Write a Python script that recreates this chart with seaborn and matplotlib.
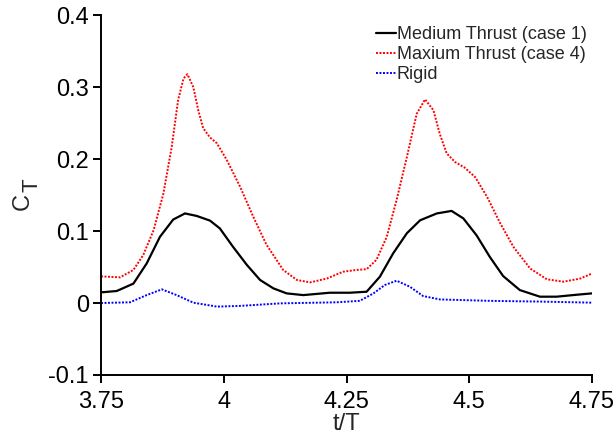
import matplotlib
matplotlib.use("Agg")
import matplotlib.pyplot as plt
import seaborn as sns

# Medium Thrust (case 1)
t_medium = [3.75, 3.782, 3.816, 3.843, 3.87, 3.897, 3.921, 3.945, 3.972, 3.992, 4.019, 4.047,
            4.074, 4.101, 4.128, 4.162, 4.216, 4.257, 4.291, 4.318, 4.345, 4.373, 4.4, 4.434,
            4.464, 4.488, 4.515, 4.542, 4.569, 4.603, 4.644, 4.678, 4.719, 4.75]
ct_medium = [0.0148, 0.0167, 0.027, 0.055, 0.092, 0.116, 0.1245, 0.121, 0.1145, 0.1037, 0.078,
             0.053, 0.032, 0.0204, 0.0134, 0.011, 0.0143, 0.0143, 0.0157, 0.0366, 0.069, 0.097,
             0.115, 0.1245, 0.128, 0.1176, 0.094, 0.064, 0.0375, 0.018, 0.0088, 0.0088, 0.0115,
             0.0134]

# Maxium Thrust (case 4)
t_max = [3.75, 3.789, 3.816, 3.836, 3.857, 3.877, 3.894, 3.907, 3.918, 3.926, 3.938, 3.948,
         3.958, 3.972, 3.986, 4.006, 4.033, 4.06, 4.087, 4.121, 4.149, 4.176, 4.21, 4.243,
         4.271, 4.291, 4.311, 4.332, 4.352, 4.373, 4.393, 4.41, 4.427, 4.44, 4.454, 4.471,
         4.491, 4.512, 4.536, 4.563, 4.59, 4.624, 4.658, 4.692, 4.726, 4.75]
ct_max = [0.037, 0.0357, 0.046, 0.0667, 0.101, 0.152, 0.217, 0.282, 0.312, 0.318, 0.3, 0.268,
          0.243, 0.23, 0.222, 0.199, 0.162, 0.12, 0.081, 0.046, 0.032, 0.0287, 0.034, 0.0435,
          0.046, 0.047, 0.06, 0.092, 0.143, 0.203, 0.263, 0.283, 0.268, 0.235, 0.208, 0.196,
          0.188, 0.175, 0.148, 0.111, 0.078, 0.048, 0.033, 0.0296, 0.034, 0.041]

# Rigid
t_rigid = [3.75, 3.809, 3.843, 3.874, 3.904, 3.938, 3.986, 4.033, 4.115, 4.23, 4.277, 4.305,
           4.328, 4.352, 4.379, 4.406, 4.44, 4.542, 4.644, 4.75]
ct_rigid = [0.0, 0.001, 0.011, 0.019, 0.011, 0.0005, -0.005, -0.004, -0.0005, 0.001, 0.003,
            0.0134, 0.025, 0.031, 0.0227, 0.0097, 0.005, 0.003, 0.002, 0.0005]

x_ticks = [3.75, 4, 4.25, 4.5, 4.75]
x_tick_labels = ["3.75", "4", "4.25", "4.5", "4.75"]
y_ticks = [-0.1, 0, 0.1, 0.2, 0.3, 0.4]
y_tick_labels = ["-0.1", "0", "0.1", "0.2", "0.3", "0.4"]

sns.set_style("ticks")
plt.rcParams["font.family"] = ["Liberation Sans", "DejaVu Sans"]

fig, ax = plt.subplots(figsize=(6.16, 4.34), dpi=100)
fig.subplots_adjust(left=0.164, right=0.961, top=0.965, bottom=0.136)

dots = (0, (1, 0.8))
sns.lineplot(x=t_medium, y=ct_medium, ax=ax, color="black", linewidth=1.6,
             label="Medium Thrust (case 1)")
sns.lineplot(x=t_max, y=ct_max, ax=ax, color="red", linewidth=1.4, linestyle=dots,
             label="Maxium Thrust (case 4)")
sns.lineplot(x=t_rigid, y=ct_rigid, ax=ax, color="blue", linewidth=1.4, linestyle=dots,
             label="Rigid")

ax.set_xlim(3.75, 4.75)
ax.set_ylim(-0.1, 0.4)
ax.set_xticks(x_ticks)
ax.set_xticklabels(x_tick_labels)
ax.set_yticks(y_ticks)
ax.set_yticklabels(y_tick_labels)
ax.tick_params(direction="out", length=5.8, width=1.4, labelsize=17, pad=3, colors="black")
ax.tick_params(axis="x", pad=5.5)
for side in ["left", "bottom"]:
    ax.spines[side].set_linewidth(1.4)
    ax.spines[side].set_color("black")
sns.despine(ax=ax)

ax.set_xlabel("t/T", fontsize=17, labelpad=0)
ax.set_ylabel("")
# C with a lowered, near full-size T as in the original
fig.text(23 / 616, 1 - 202 / 434, "C", rotation=90, fontsize=17, ha="center", va="center")
fig.text(32 / 616, 1 - 185.5 / 434, "T", rotation=90, fontsize=16, ha="center", va="center")

ax.legend(loc="upper left", bbox_to_anchor=(376 / 616, 1 - 26 / 434),
          bbox_transform=fig.transFigure, frameon=False, fontsize=13,
          handlelength=1.1, handletextpad=0.05, labelspacing=0.17,
          borderaxespad=0, borderpad=0)

fig.savefig("out.png", dpi=100)
